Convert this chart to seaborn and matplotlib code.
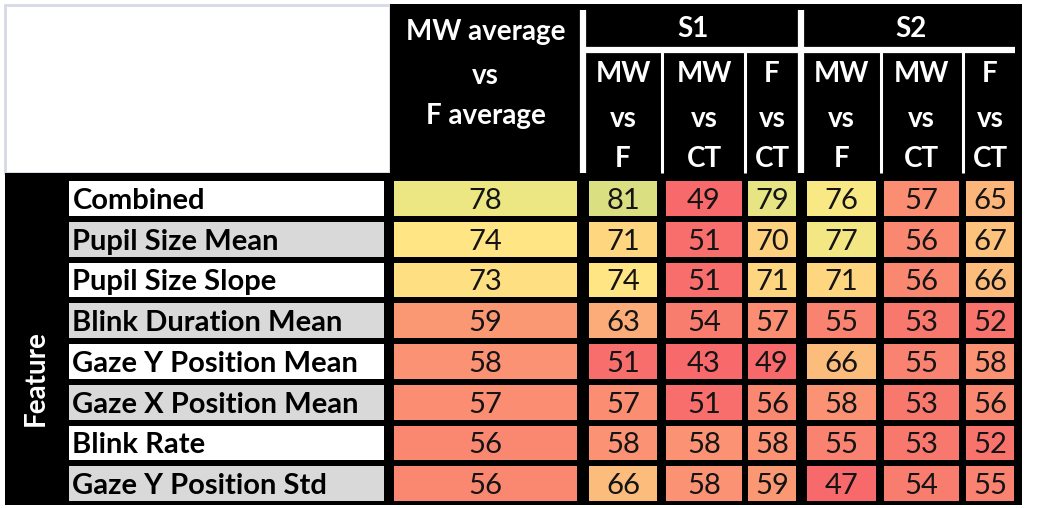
import matplotlib.pyplot as plt
import numpy as np
import pandas as pd
import seaborn as sns
from matplotlib.colors import LinearSegmentedColormap, ListedColormap
from matplotlib.patches import Rectangle

# data
features = ["Combined", "Pupil Size Mean", "Pupil Size Slope", "Blink Duration Mean",
            "Gaze Y Position Mean", "Gaze X Position Mean", "Blink Rate", "Gaze Y Position Std"]
mw_avg_vs_f_avg = [78, 74, 73, 59, 58, 57, 56, 56]
s1_mw_vs_f = [81, 71, 74, 63, 51, 57, 58, 66]
s1_mw_vs_ct = [49, 51, 51, 54, 43, 51, 58, 58]
s1_f_vs_ct = [79, 70, 71, 57, 49, 56, 58, 59]
s2_mw_vs_f = [76, 77, 71, 55, 66, 58, 55, 47]
s2_mw_vs_ct = [57, 56, 56, 53, 55, 53, 53, 54]
s2_f_vs_ct = [65, 67, 66, 52, 58, 56, 52, 55]

sub_headers = [["MW", "vs", "F"], ["MW", "vs", "CT"], ["F", "vs", "CT"]]
groups = ["S1", "S2"]

df = pd.DataFrame({
    "avg": mw_avg_vs_f_avg,
    "s1_mw_f": s1_mw_vs_f, "s1_mw_ct": s1_mw_vs_ct, "s1_f_ct": s1_f_vs_ct,
    "s2_mw_f": s2_mw_vs_f, "s2_mw_ct": s2_mw_vs_ct, "s2_f_ct": s2_f_vs_ct,
}, index=features)

sns.set_theme(style="white")
plt.rcParams["font.family"] = ["Lato", "DejaVu Sans"]

W, H = 1037, 508
fig = plt.figure(figsize=(W / 100, H / 100), dpi=100)


def px_axes(x0, y0, x1, y1):
    return fig.add_axes([x0 / W, 1 - y1 / H, (x1 - x0) / W, (y1 - y0) / H])


# table background
bg = px_axes(0, 0, W, H)
bg.set_xlim(0, W)
bg.set_ylim(H, 0)
bg.axis("off")
bg.add_patch(Rectangle((5, 5), 385, 168, fc="white", ec="#d5dae4", lw=2))
bg.add_patch(Rectangle((390, 4), 632, 170, fc="black", lw=0))
bg.add_patch(Rectangle((5, 173), 1017, 332, fc="black", lw=0))

# header separators
for x in [583, 801]:
    bg.plot([x, x], [10, 173], color="white", lw=4.5, solid_capstyle="butt")
for x in [662, 745, 881, 963]:
    bg.plot([x, x], [50, 173], color="white", lw=2.2, solid_capstyle="butt")
bg.plot([586, 1015], [50, 50], color="white", lw=4.5, solid_capstyle="butt")

cmap = LinearSegmentedColormap.from_list("excel", ["#F8696B", "#FFEB84", "#63BE7B"])
col_edges = [(391, 580), (586, 660), (663, 745), (745, 799), (804, 879), (881, 962), (963, 1017)]
top, bottom = 178, 504
hdr = dict(color="white", fontweight="bold", fontsize=20, ha="center", va="baseline")

for i, col in enumerate(df.columns):
    x0, x1 = col_edges[i]
    ax = px_axes(x0, top, x1, bottom)
    sns.heatmap(df[[col]], ax=ax, cmap=cmap, vmin=50, vmax=100, annot=True, fmt="d",
                cbar=False, linewidths=2.9, linecolor="black",
                xticklabels=False, yticklabels=False,
                annot_kws={"size": 21, "color": "#141414"})
    ax.set_xlabel("")
    ax.set_ylabel("")
    for t in ax.texts:
        t.set_y(t.get_position()[1] + 0.06)
    xc = (x0 + x1) / 2
    if i > 0:
        for txt, y in zip(sub_headers[(i - 1) % 3], [82, 127, 167]):
            bg.text(xc, y, txt, **hdr)

bg.text((col_edges[0][0] + col_edges[0][1]) / 2, 40, "MW average", **hdr)
bg.text((col_edges[0][0] + col_edges[0][1]) / 2, 84, "vs", **hdr)
bg.text((col_edges[0][0] + col_edges[0][1]) / 2, 124, "F average", **hdr)
bg.text((col_edges[1][0] + col_edges[3][1]) / 2, 37, groups[0], **hdr)
bg.text((col_edges[4][0] + col_edges[6][1]) / 2, 37, groups[1], **hdr)

# feature names
stripes = np.array([[i % 2] for i in range(len(features))])
lab = px_axes(66, top, 387, bottom)
sns.heatmap(stripes, ax=lab, cmap=ListedColormap(["white", "#d9d9d9"]), cbar=False,
            annot=np.array(features).reshape(-1, 1), fmt="",
            linewidths=2.9, linecolor="black", xticklabels=False, yticklabels=False,
            annot_kws={"size": 21, "color": "black", "fontweight": "bold"})
for t in lab.texts:
    t.set_ha("left")
    t.set_x(0.02)
    t.set_y(t.get_position()[1] + 0.06)

bg.text(36, 378, "Feature", color="white", fontweight="bold", fontsize=20,
        rotation=90, ha="center", va="center")

fig.savefig("out.png", dpi=100)
